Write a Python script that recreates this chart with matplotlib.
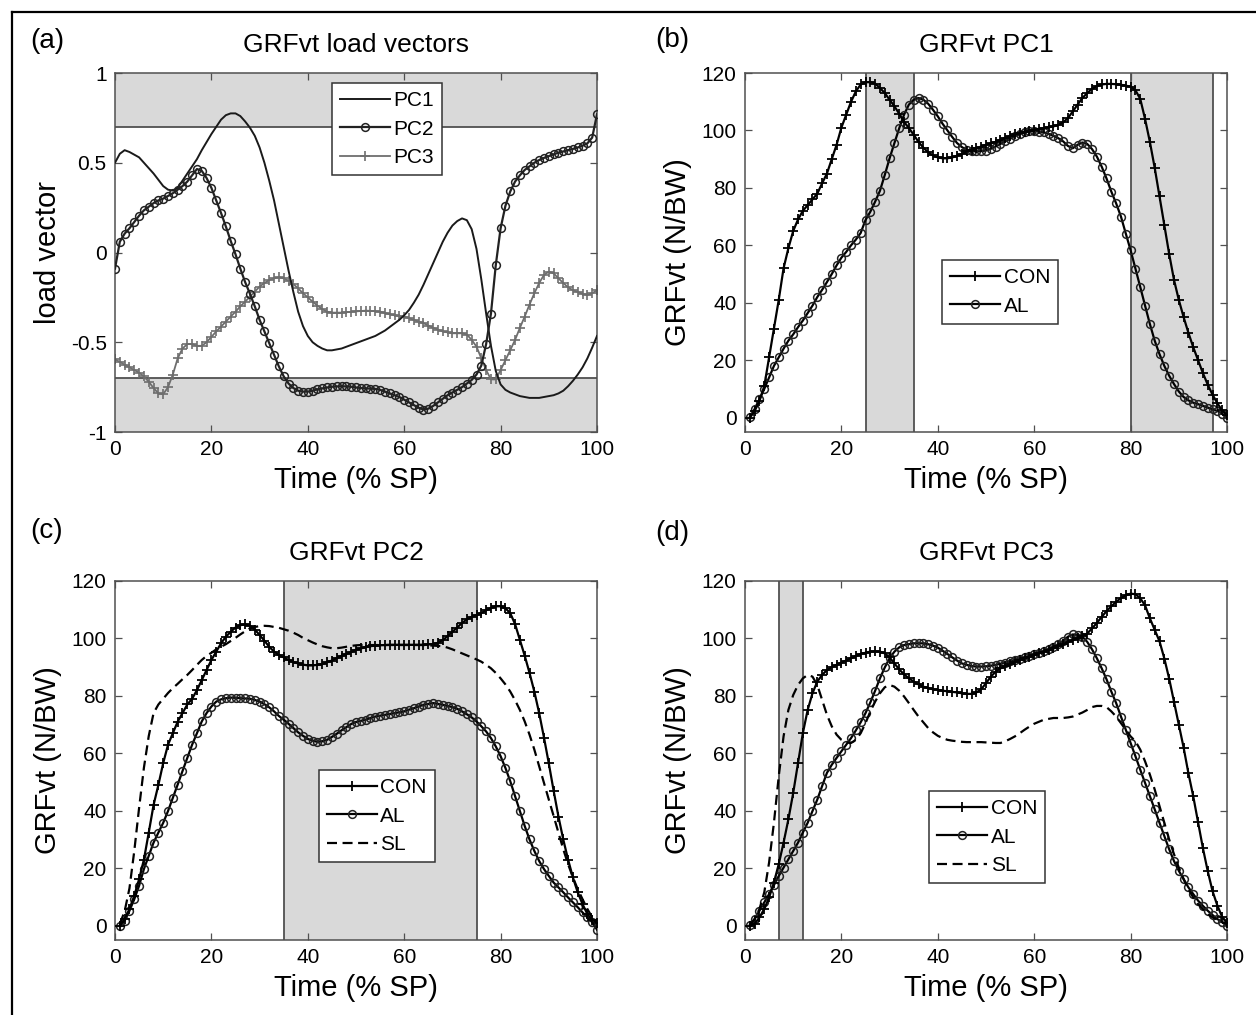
import matplotlib
matplotlib.use("Agg")
import matplotlib.pyplot as plt
from matplotlib.lines import Line2D

plt.rcParams['font.family'] = ['Liberation Sans', 'DejaVu Sans']

# ---------------- data ----------------
x_load = list(range(0, 101))
x_grf = list(range(1, 101))

pc1_load = [0.50, 0.55, 0.57, 0.56, 0.545, 0.53, 0.50, 0.47, 0.44, 0.405,
            0.37, 0.35, 0.345, 0.36, 0.40, 0.44, 0.48, 0.52, 0.57, 0.615,
            0.66, 0.70, 0.74, 0.765, 0.775, 0.775, 0.76, 0.73, 0.695, 0.65,
            0.585, 0.50, 0.40, 0.29, 0.16, 0.03, -0.10, -0.22, -0.33, -0.41,
            -0.465, -0.50, -0.52, -0.535, -0.545, -0.545, -0.54, -0.535, -0.525, -0.515,
            -0.505, -0.495, -0.485, -0.475, -0.465, -0.45, -0.435, -0.415, -0.395, -0.375,
            -0.35, -0.32, -0.28, -0.235, -0.18, -0.12, -0.06, 0.0, 0.06, 0.11,
            0.15, 0.175, 0.19, 0.18, 0.13, 0.02, -0.15, -0.34, -0.52, -0.66,
            -0.735, -0.765, -0.78, -0.79, -0.80, -0.805, -0.81, -0.81, -0.81, -0.805,
            -0.80, -0.795, -0.785, -0.77, -0.745, -0.715, -0.68, -0.64, -0.59, -0.53,
            -0.465]

pc2_load = [-0.09, 0.06, 0.105, 0.135, 0.17, 0.205, 0.235, 0.255, 0.275, 0.29,
            0.30, 0.315, 0.33, 0.35, 0.37, 0.395, 0.43, 0.465, 0.455, 0.415,
            0.36, 0.29, 0.22, 0.145, 0.065, -0.01, -0.09, -0.165, -0.23, -0.30,
            -0.375, -0.44, -0.505, -0.57, -0.635, -0.69, -0.73, -0.755, -0.77, -0.775,
            -0.775, -0.77, -0.762, -0.757, -0.752, -0.748, -0.746, -0.745, -0.746, -0.748,
            -0.752, -0.755, -0.757, -0.758, -0.76, -0.765, -0.775, -0.785, -0.795, -0.805,
            -0.82, -0.835, -0.85, -0.865, -0.875, -0.87, -0.855, -0.835, -0.815, -0.795,
            -0.78, -0.765, -0.75, -0.73, -0.71, -0.68, -0.63, -0.51, -0.34, -0.07,
            0.135, 0.26, 0.34, 0.395, 0.43, 0.46, 0.48, 0.50, 0.515, 0.527,
            0.537, 0.547, 0.556, 0.563, 0.57, 0.577, 0.585, 0.595, 0.608, 0.64,
            0.77]

pc3_load = [-0.595, -0.61, -0.625, -0.64, -0.655, -0.67, -0.69, -0.72, -0.755, -0.785,
            -0.79, -0.75, -0.68, -0.59, -0.535, -0.51, -0.51, -0.52, -0.52, -0.50,
            -0.47, -0.44, -0.413, -0.385, -0.357, -0.33, -0.30, -0.274, -0.246, -0.218,
            -0.19, -0.17, -0.153, -0.144, -0.138, -0.144, -0.157, -0.176, -0.20, -0.227,
            -0.25, -0.274, -0.296, -0.316, -0.33, -0.335, -0.335, -0.335, -0.333, -0.33,
            -0.328, -0.326, -0.324, -0.325, -0.327, -0.33, -0.337, -0.344, -0.35, -0.354,
            -0.357, -0.366, -0.376, -0.385, -0.394, -0.407, -0.42, -0.43, -0.44, -0.445,
            -0.45, -0.45, -0.45, -0.457, -0.487, -0.524, -0.59, -0.655, -0.707, -0.707,
            -0.655, -0.60, -0.544, -0.487, -0.42, -0.357, -0.29, -0.227, -0.17, -0.125,
            -0.107, -0.116, -0.144, -0.17, -0.194, -0.21, -0.22, -0.23, -0.236, -0.227,
            -0.21]

b_con = [0, 2.3, 5.8, 11, 21, 31, 41, 52, 59, 65,
         69, 72, 74, 76, 78, 81.6, 85, 90, 95, 101,
         105.5, 110, 113.6, 116, 116.8, 116.8, 116.3, 114.8, 113, 110.7,
         108.4, 105.8, 103, 100.8, 98.5, 96, 94, 92.4, 91.3, 90.6,
         90.3, 90.3, 90.6, 91.2, 91.8, 92.7, 93.2, 93.8, 94.4, 95,
         95.5, 96, 96.7, 97.4, 98, 98.6, 99.1, 99.6, 99.9, 100.2,
         100.5, 100.8, 101.1, 101.4, 102, 102.8, 104.3, 106.6, 109, 111.3,
         113, 114.5, 115.4, 116, 116.2, 116.2, 116.1, 115.9, 115.6, 115.2,
         114, 111, 104, 96, 87, 77, 67, 57, 48, 41,
         35, 29.5, 24.5, 20, 15.5, 11.5, 8, 5, 2.5, 0.8]

b_al = [0.2, 3, 6.4, 10, 14, 18, 21, 24, 26.8, 29,
        31.5, 33.8, 36.4, 39, 42, 44.5, 47.2, 50, 53, 55.7,
        57.7, 60, 62, 64.3, 68.8, 71.7, 75.2, 79, 84.5, 90.3,
        95.6, 100.8, 105.5, 109, 110.7, 111.3, 110.7, 109.3, 107.2, 104.9,
        102.3, 100, 97.7, 95.6, 94.2, 93.2, 92.8, 92.7, 92.8, 93,
        93.6, 94.4, 95.3, 96.2, 97.1, 98, 98.7, 99.3, 99.7, 99.8,
        99.6, 99.3, 98.8, 98.1, 97.3, 96.2, 94.6, 93.8, 95, 95.8,
        95.3, 93.5, 90.9, 87.4, 83.3, 78.7, 74.6, 70, 64.1, 58.3,
        51.9, 45.5, 39, 32.6, 26.8, 22.1, 18, 14.6, 11.7, 9.1,
        7.2, 6, 5.2, 4.7, 4.1, 3.5, 2.9, 2.3, 1.4, -0.2]

c_con = [0, 2.3, 5.8, 10.4, 16.2, 23, 32.4, 42, 49, 56.6,
         63, 67, 71, 74, 77, 79, 82, 85.5, 89, 92.5,
         95.4, 98.3, 100.6, 102.3, 103.8, 104.6, 104.9, 104.4, 103.1, 101.2,
         99.2, 97.1, 95.4, 94.2, 93.4, 92.5, 91.8, 91.3, 90.9, 90.6,
         90.6, 90.8, 91.1, 91.7, 92.3, 93.1, 93.9, 94.6, 95.3, 96,
         96.5, 97, 97.3, 97.5, 97.6, 97.7, 97.8, 97.8, 97.8, 97.8,
         97.8, 97.8, 97.8, 97.8, 97.9, 98, 98.5, 99.4, 100.8, 102.3,
         103.8, 105.4, 106.6, 107.5, 108.1, 108.9, 109.8, 110.6, 111.2, 111.2,
         110.5, 108.8, 105, 99.5, 94, 88, 81.5, 74, 65.5, 56.5,
         47, 38, 30, 23, 16.8, 11.6, 7.5, 4, 2, 1]

c_al = [0, 1.7, 5.2, 9.2, 13.9, 19.7, 24.3, 28.9, 32.4, 35.8,
        39.9, 44.5, 49.1, 53.8, 58.4, 63, 67, 71.1, 74, 76.3,
        78, 78.8, 79.2, 79.4, 79.3, 79.2, 79.1, 79, 78.6, 78,
        77.1, 76, 74.6, 73, 71.7, 70.3, 68.8, 67.3, 66.1, 65,
        64.4, 64, 64.2, 64.7, 65.7, 66.8, 68, 69.1, 70.2, 70.9,
        71.3, 71.7, 72.3, 72.8, 73.1, 73.4, 73.7, 74, 74.3, 74.6,
        75.2, 75.7, 76.3, 76.9, 77.2, 77.5, 77.2, 76.9, 76.5, 76.1,
        75.5, 74.6, 73.6, 72.5, 71.1, 69.4, 67.6, 65.3, 62.4, 59,
        54.9, 50.3, 45.1, 39.9, 34.7, 30, 26, 22.5, 19.7, 17.3,
        15, 13.3, 11.6, 9.8, 8.1, 6.4, 4.6, 2.9, 1.2, -1.4]

c_sl = [0.6, 5, 13, 26, 41, 55, 66, 74, 77, 79,
        81, 82.7, 84.2, 85.8, 87.3, 89, 90.8, 92.5, 93.9, 95,
        96.2, 97.1, 98, 99.1, 100.2, 101.4, 102.5, 103.5, 104, 104.3,
        104.4, 104.3, 104, 103.7, 103.2, 102.7, 102, 101.2, 100.2, 99.4,
        98.6, 97.9, 97.3, 96.9, 96.6, 96.6, 96.8, 97.1, 97.4, 97.6,
        97.7, 97.7, 97.7, 97.7, 97.7, 97.7, 97.7, 97.7, 97.7, 97.7,
        97.7, 97.7, 97.7, 97.7, 97.6, 97.5, 97.4, 97.3, 96.8, 96.2,
        95.5, 94.8, 94.1, 93.4, 92.7, 91.9, 90.8, 89.6, 88, 86.1,
        84, 81.5, 78.5, 75.1, 71.1, 66.5, 61.3, 55.5, 49.7, 43.9,
        38.2, 32.4, 26.6, 21.4, 16.8, 12.7, 9.2, 5.8, 2.9, 1.2]

d_con = [0, 0.6, 2.9, 5.8, 9.8, 15, 21.4, 28.9, 37, 46.2,
         56.6, 67, 75.1, 80.9, 85, 87.3, 89, 90, 90.8, 91.6,
         92.3, 93.1, 93.9, 94.6, 95, 95.4, 95.5, 95.4, 94.8, 93.4,
         91.3, 89.2, 87.5, 86.1, 85, 84, 83.2, 82.7, 82.3, 82.1,
         81.8, 81.6, 81.4, 81.2, 80.9, 80.7, 80.7, 81.2, 82.3, 84.4,
         86.7, 88.4, 89.6, 90.4, 91.1, 91.8, 92.5, 93.1, 93.6, 94.2,
         94.8, 95.4, 96, 96.5, 97.2, 98, 98.7, 99.4, 100, 100.8,
         101.7, 103.5, 105.4, 107.5, 109.5, 111.2, 112.7, 114.1, 115, 115.6,
         115.4, 114, 111.5, 107, 103, 99, 93, 86, 78, 70,
         62, 53, 45, 36, 27, 19, 12, 7, 3, 0.8]

d_al = [0.2, 2.3, 5.2, 8.1, 11, 14.1, 17.3, 20.2, 23.1, 26,
        28.9, 32.4, 35.8, 39.9, 43.9, 48.6, 53.2, 56, 58.4, 60.7,
        63, 65.3, 68, 70.8, 74, 77.7, 81.8, 86.1, 89.9, 93.1,
        95.4, 96.9, 97.7, 98, 98.3, 98.3, 98.3, 98, 97.5, 96.8,
        95.7, 94.6, 93.4, 92.3, 91.3, 90.8, 90.4, 90.2, 90.2, 90.3,
        90.5, 90.8, 91.2, 91.6, 92, 92.5, 93, 93.4, 94, 94.6,
        95.1, 95.6, 96.2, 96.9, 98, 99.2, 100.6, 101.4, 101.2, 100.6,
        98.8, 96.2, 93.1, 89.6, 85.8, 81.5, 77.5, 72.8, 68.2, 63.6,
        59, 54.3, 49.7, 45.1, 40.5, 35.8, 31.2, 26.6, 22.5, 19.1,
        16.2, 13.3, 11, 8.7, 6.9, 5.2, 3.7, 2.3, 1.2, 0]

d_sl = [0.2, 2.3, 5.8, 11.6, 22, 35.8, 52, 65.9, 75.1, 80.3,
        83.8, 86.1, 87.3, 86.7, 83.8, 78.6, 73.4, 69.4, 66.5, 64.7,
        63.8, 63.6, 64.7, 67, 70.5, 74.6, 78, 80.9, 83, 83.8,
        83.2, 81.8, 79.8, 77.5, 75.1, 72.8, 70.8, 68.8, 67.3, 66.1,
        65.3, 64.7, 64.4, 64.2, 64, 63.9, 63.9, 63.9, 63.9, 63.8,
        63.7, 63.6, 63.6, 64.2, 65, 65.9, 67, 68.2, 69.3, 70.3,
        71, 71.7, 72, 72.3, 72.3, 72.3, 72.5, 72.8, 73.5, 74.2,
        75.1, 76.1, 76.5, 76.5, 76.1, 74.6, 72.8, 70.5, 68.2, 65.9,
        64.2, 61.3, 57.2, 52.6, 47.4, 41.6, 35.8, 30, 24.9, 20.2,
        16.2, 12.7, 9.8, 7.5, 5.8, 4, 2.9, 2.1, 1.2, 0.6]

band_a = [0.7, -0.7]
spans_b = [(25, 35), (80, 97)]
spans_c = [(35, 75)]
spans_d = [(7, 12)]

x_ticks = [0, 20, 40, 60, 80, 100]
y_ticks_load = [-1, -0.5, 0, 0.5, 1]
y_tick_labels_load = ['-1', '-0.5', '0', '0.5', '1']
y_ticks_grf = [0, 20, 40, 60, 80, 100, 120]

# ---------------- style ----------------
W, H = 1256, 1015
fig = plt.figure(figsize=(W / 100, H / 100), dpi=100)

SHADE = '#d9d9d9'
EDGE = '#505050'
SPINE = '#505050'
TICK_FS = 15
LABEL_FS = 21
TITLE_FS = 19
LEG_FS = 15
LW = 1.6


def make_ax(left_px, top_px, right_px, bottom_px):
    ax = fig.add_axes([left_px / W, 1 - bottom_px / H,
                       (right_px - left_px) / W, (bottom_px - top_px) / H])
    for s in ax.spines.values():
        s.set_color(SPINE)
        s.set_linewidth(1.1)
    ax.tick_params(direction='in', top=True, right=True, length=5,
                   width=0.9, color=SPINE, labelsize=TICK_FS, pad=6)
    return ax


def decorate(ax, title, ylabel, panel, panel_xy, title_y=1.078, xlab_y=-0.133):
    ax.set_xlim(0, 100)
    ax.set_xticks(x_ticks)
    ax.text(0.5, title_y, title, transform=ax.transAxes, ha='center',
            va='center', fontsize=TITLE_FS)
    ax.set_xlabel('Time (% SP)', fontsize=LABEL_FS)
    ax.xaxis.set_label_coords(0.5, xlab_y)
    ax.xaxis.label.set_va('center')
    ax.set_ylabel(ylabel, fontsize=LABEL_FS)
    ax.yaxis.set_label_coords(-0.138, 0.5)
    ax.yaxis.label.set_va('center')
    fig.text(panel_xy[0] / W, 1 - panel_xy[1] / H, panel, ha='center',
             va='center', fontsize=20)


def legend(ax, handles, labels, left, top):
    lg = ax.legend(handles, labels, loc='upper left', bbox_to_anchor=(left, top),
                   borderaxespad=0, fancybox=False, framealpha=1,
                   edgecolor='#333333', fontsize=LEG_FS, handlelength=2.4,
                   handletextpad=0.15, borderpad=0.4, labelspacing=0.45,
                   numpoints=1)
    lg.get_frame().set_linewidth(1.1)
    lg.set_zorder(10)
    return lg


def grf_lines(ax, con, al, sl=None):
    hs = []
    hs.append(ax.plot(x_grf, con, color='black', lw=LW, marker='+',
                      ms=7.5, mew=1.3, zorder=4)[0])
    hs.append(ax.plot(x_grf, al, color='black', lw=LW, marker='o',
                      ms=5.6, mew=1.1, mfc='none', mec='#222222', zorder=3)[0])
    if sl is not None:
        hs.append(ax.plot(x_grf, sl, color='black', lw=LW, ls=(0, (4.5, 2.5)),
                          zorder=3)[0])
    return hs


def shade_x(ax, spans):
    for a, b in spans:
        ax.axvspan(a, b, color=SHADE, zorder=0, lw=0)
        ax.axvline(a, color=EDGE, lw=1.3, zorder=1)
        ax.axvline(b, color=EDGE, lw=1.3, zorder=1)


# ---------------- (a) ----------------
ax = make_ax(115, 73, 597, 432)
ax.axhspan(band_a[0], 1, color=SHADE, zorder=0, lw=0)
ax.axhspan(-1, band_a[1], color=SHADE, zorder=0, lw=0)
for v in band_a:
    ax.axhline(v, color=EDGE, lw=1.3, zorder=1)
h1, = ax.plot(x_load, pc1_load, color='#1a1a1a', lw=1.4, zorder=3)
h2, = ax.plot(x_load, pc2_load, color='#222222', lw=LW, marker='o', ms=5.6,
              mew=1.1, mfc='none', mec='#222222', zorder=3)
h3, = ax.plot(x_load, pc3_load, color='#6e6e6e', lw=1.3, marker='+', ms=7.5,
              mew=1.2, zorder=2)
ax.set_ylim(-1, 1)
ax.set_yticks(y_ticks_load)
ax.set_yticklabels(y_tick_labels_load)
decorate(ax, 'GRFvt load vectors', 'load vector', '(a)', (47, 41))
legend(ax, [h1, h2, h3], ['PC1', 'PC2', 'PC3'], 0.450, 0.972)

# ---------------- (b) ----------------
ax = make_ax(745, 73, 1227, 432)
shade_x(ax, spans_b)
hs = grf_lines(ax, b_con, b_al)
ax.set_ylim(-5, 120)
ax.set_yticks(y_ticks_grf)
decorate(ax, 'GRFvt PC1', 'GRFvt (N/BW)', '(b)', (672, 40))
legend(ax, hs, ['CON', 'AL'], 0.409, 0.479)

# ---------------- (c) ----------------
ax = make_ax(115, 581, 597, 940)
shade_x(ax, spans_c)
hs = grf_lines(ax, c_con, c_al, c_sl)
ax.set_ylim(-5, 120)
ax.set_yticks(y_ticks_grf)
decorate(ax, 'GRFvt PC2', 'GRFvt (N/BW)', '(c)', (47, 531))
legend(ax, hs, ['CON', 'AL', 'SL'], 0.423, 0.474)

# ---------------- (d) ----------------
ax = make_ax(745, 581, 1227, 940)
shade_x(ax, spans_d)
hs = grf_lines(ax, d_con, d_al, d_sl)
ax.set_ylim(-5, 120)
ax.set_yticks(y_ticks_grf)
decorate(ax, 'GRFvt PC3', 'GRFvt (N/BW)', '(d)', (672, 533))
legend(ax, hs, ['CON', 'AL', 'SL'], 0.382, 0.415)

# outer frame (top and left edges of the original figure border)
fig.add_artist(Line2D([12 / W, 1.0], [1 - 12 / H, 1 - 12 / H],
                      color='black', lw=1.6, transform=fig.transFigure))
fig.add_artist(Line2D([12 / W, 12 / W], [0.0, 1 - 12 / H],
                      color='black', lw=1.6, transform=fig.transFigure))

fig.savefig('out.png', dpi=100)
